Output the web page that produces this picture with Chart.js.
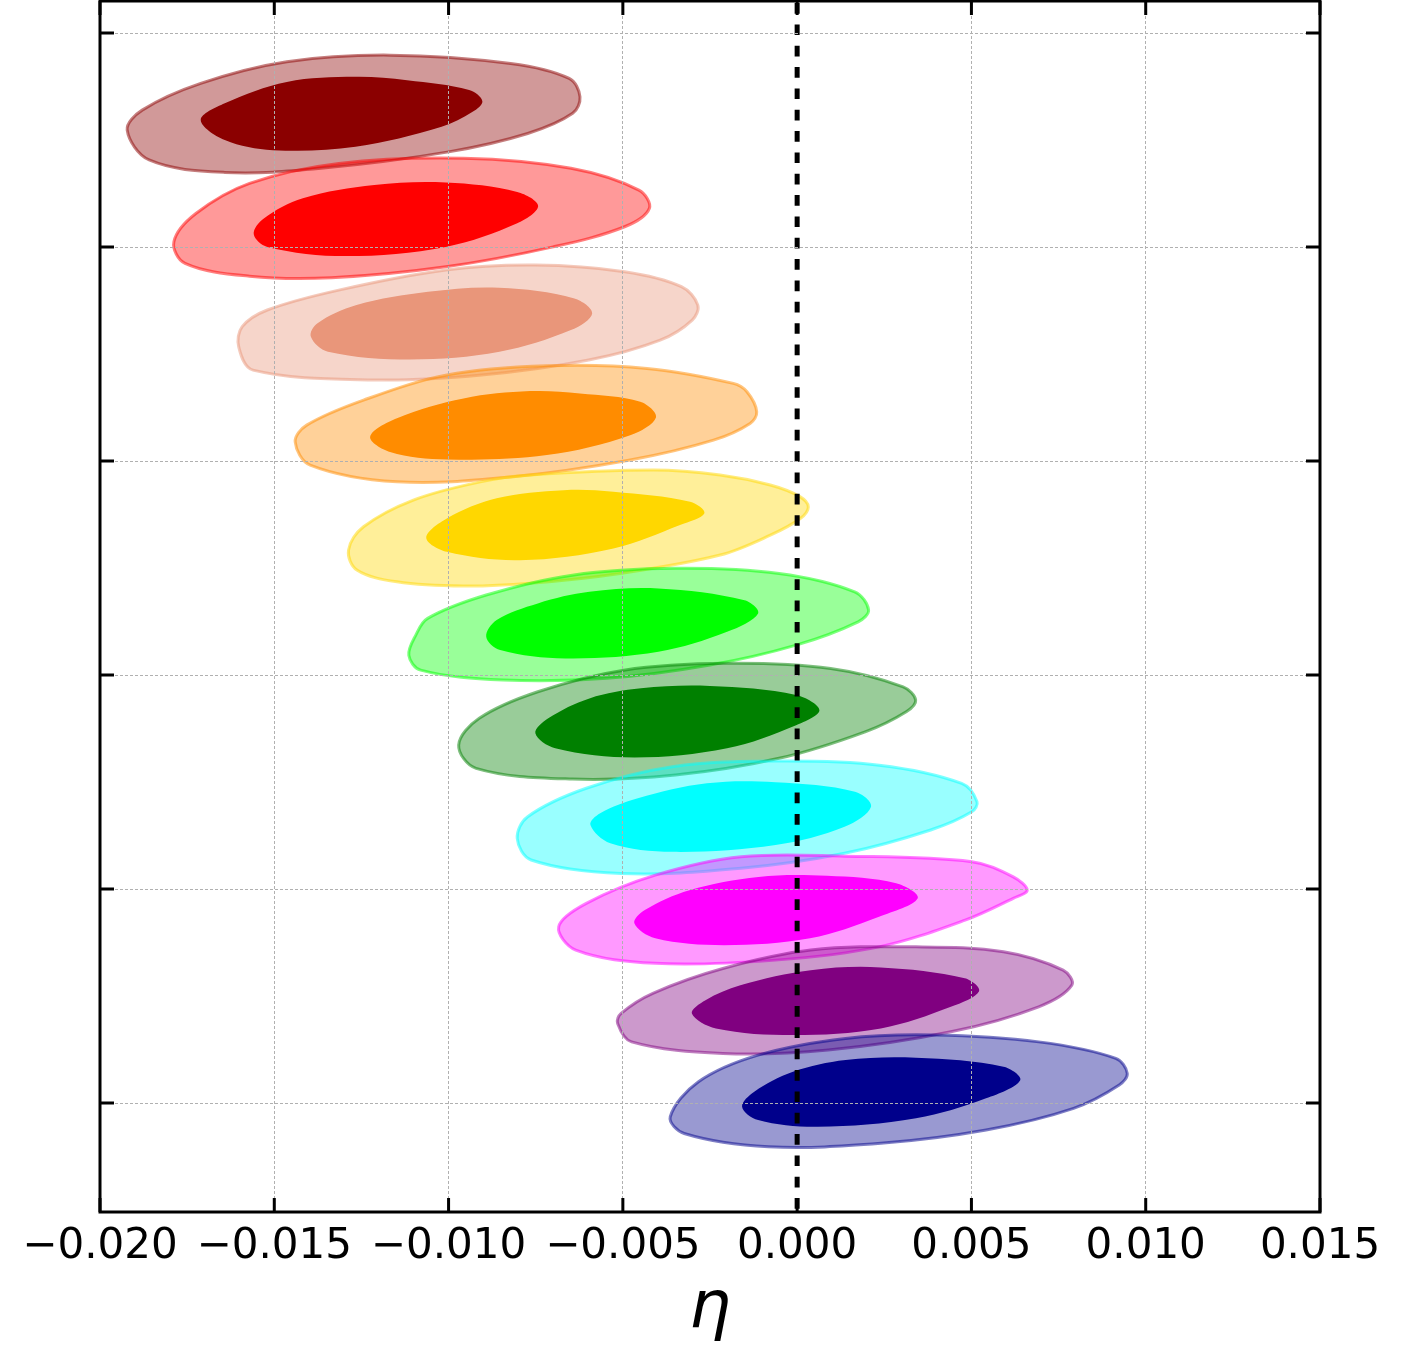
<!DOCTYPE html>
<html>
<head>
<meta charset="utf-8">
<script src="https://cdn.jsdelivr.net/npm/chart.js@4.4.1/dist/chart.umd.min.js"></script>
<style>
  html, body { margin: 0; padding: 0; background: #fff; }
  canvas { display: block; }
</style>
</head>
<body>
<canvas id="chart" width="1409" height="1355"></canvas>
<script>
// axis setup
const xTicks = [-0.020, -0.015, -0.010, -0.005, 0.000, 0.005, 0.010, 0.015];
const xTickLabels = ['\u22120.020', '\u22120.015', '\u22120.010', '\u22120.005', '0.000', '0.005', '0.010', '0.015'];
const yTicks = [0, 1, 2, 3, 4, 5];
const yMin = -0.509;
const yMax = 5.15;
const xTitle = '\u03b7';
const zeroX = 0;

// contour outlines [eta, y] (outer = 2 sigma, inner = 1 sigma)
const darkredOuter = [[-0.01922,4.547],[-0.01859,4.407],[-0.01642,4.349],[-0.01366,4.368],[-0.01000,4.445],[-0.00773,4.531],[-0.00644,4.625],[-0.00623,4.702],[-0.00654,4.788],[-0.00822,4.858],[-0.01168,4.897],[-0.01464,4.866],[-0.01711,4.765],[-0.01879,4.640]];
const darkredInner = [[-0.01711,4.594],[-0.01642,4.500],[-0.01504,4.453],[-0.01267,4.469],[-0.01020,4.562],[-0.00931,4.632],[-0.00903,4.682],[-0.00941,4.734],[-0.01119,4.780],[-0.01267,4.796],[-0.01464,4.772],[-0.01642,4.672]];
const redOuter = [[-0.01788,4.025],[-0.01756,3.924],[-0.01571,3.864],[-0.01336,3.857],[-0.01008,3.908],[-0.00700,4.001],[-0.00495,4.095],[-0.00424,4.181],[-0.00454,4.266],[-0.00649,4.368],[-0.00957,4.415],[-0.01315,4.391],[-0.01571,4.298],[-0.01725,4.157]];
const redInner = [[-0.01559,4.061],[-0.01520,4.001],[-0.01295,3.958],[-0.01008,4.001],[-0.00803,4.111],[-0.00743,4.192],[-0.00803,4.258],[-0.01008,4.302],[-0.01213,4.290],[-0.01418,4.228],[-0.01530,4.134]];
const salmonOuter = [[-0.01602,3.534],[-0.01561,3.425],[-0.01213,3.379],[-0.00905,3.402],[-0.00598,3.472],[-0.00393,3.565],[-0.00301,3.659],[-0.00285,3.729],[-0.00332,3.815],[-0.00495,3.885],[-0.00752,3.916],[-0.01008,3.893],[-0.01315,3.799],[-0.01520,3.706],[-0.01592,3.628]];
const salmonInner = [[-0.01395,3.581],[-0.01346,3.511],[-0.01110,3.475],[-0.00854,3.511],[-0.00649,3.612],[-0.00588,3.690],[-0.00639,3.760],[-0.00854,3.810],[-0.01059,3.791],[-0.01264,3.729],[-0.01377,3.643]];
const orangeOuter = [[-0.01440,3.090],[-0.01397,2.981],[-0.01148,2.903],[-0.00814,2.927],[-0.00479,3.005],[-0.00240,3.098],[-0.00135,3.176],[-0.00116,3.230],[-0.00144,3.324],[-0.00183,3.363],[-0.00431,3.433],[-0.00718,3.445],[-0.01005,3.402],[-0.01244,3.285],[-0.01407,3.168]];
const orangeInner = [[-0.01225,3.114],[-0.01168,3.043],[-0.01005,3.008],[-0.00718,3.028],[-0.00479,3.121],[-0.00405,3.204],[-0.00450,3.277],[-0.00623,3.316],[-0.00766,3.327],[-0.00957,3.293],[-0.01148,3.200]];
const goldOuter = [[-0.01287,2.584],[-0.01263,2.491],[-0.01148,2.436],[-0.00957,2.416],[-0.00766,2.429],[-0.00508,2.475],[-0.00221,2.561],[-0.00077,2.654],[0.00009,2.732],[0.00032,2.786],[0.00009,2.833],[-0.00077,2.888],[-0.00221,2.935],[-0.00412,2.958],[-0.00766,2.935],[-0.00909,2.903],[-0.01101,2.818],[-0.01244,2.693]];
const goldInner = [[-0.01064,2.642],[-0.01005,2.576],[-0.00795,2.537],[-0.00527,2.592],[-0.00336,2.701],[-0.00266,2.756],[-0.00307,2.810],[-0.00527,2.857],[-0.00670,2.864],[-0.00862,2.826],[-0.01005,2.732]];
const limeOuter = [[-0.01114,2.093],[-0.01080,2.023],[-0.00843,1.977],[-0.00546,1.985],[-0.00250,2.047],[-0.00003,2.140],[0.00175,2.249],[0.00205,2.304],[0.00165,2.389],[-0.00052,2.475],[-0.00349,2.499],[-0.00645,2.467],[-0.00892,2.374],[-0.01060,2.265],[-0.01094,2.187]];
const limeInner = [[-0.00892,2.179],[-0.00852,2.117],[-0.00665,2.078],[-0.00398,2.109],[-0.00201,2.202],[-0.00112,2.288],[-0.00151,2.350],[-0.00398,2.405],[-0.00596,2.389],[-0.00744,2.335],[-0.00862,2.257]];
const greenOuter = [[-0.00971,1.673],[-0.00921,1.564],[-0.00645,1.514],[-0.00349,1.533],[-0.00052,1.611],[0.00195,1.735],[0.00313,1.829],[0.00340,1.883],[0.00304,1.945],[0.00096,2.031],[-0.00201,2.055],[-0.00497,2.023],[-0.00744,1.922],[-0.00912,1.798]];
const greenInner = [[-0.00751,1.728],[-0.00694,1.658],[-0.00467,1.615],[-0.00201,1.658],[-0.00003,1.766],[0.00064,1.836],[-0.00003,1.907],[-0.00250,1.949],[-0.00448,1.938],[-0.00596,1.891],[-0.00714,1.798]];
const cyanOuter = [[-0.00803,1.237],[-0.00763,1.136],[-0.00506,1.073],[-0.00161,1.097],[0.00136,1.167],[0.00383,1.276],[0.00501,1.361],[0.00516,1.408],[0.00472,1.494],[0.00235,1.579],[-0.00062,1.598],[-0.00358,1.572],[-0.00605,1.471],[-0.00773,1.338]];
const cyanInner = [[-0.00593,1.299],[-0.00536,1.214],[-0.00358,1.174],[-0.00062,1.206],[0.00136,1.291],[0.00212,1.385],[0.00166,1.455],[-0.00062,1.499],[-0.00259,1.494],[-0.00457,1.424],[-0.00565,1.354]];
const magentaOuter = [[-0.00684,0.824],[-0.00635,0.715],[-0.00407,0.653],[-0.00062,0.668],[0.00235,0.730],[0.00482,0.855],[0.00620,0.957],[0.00660,0.995],[0.00620,1.057],[0.00501,1.128],[0.00136,1.154],[-0.00161,1.151],[-0.00407,1.065],[-0.00605,0.933]];
const magentaInner = [[-0.00467,0.840],[-0.00407,0.770],[-0.00210,0.738],[0.00037,0.770],[0.00235,0.871],[0.00346,0.957],[0.00284,1.027],[0.00086,1.062],[-0.00111,1.057],[-0.00309,0.995],[-0.00437,0.902]];
const purpleOuter = [[-0.00515,0.372],[-0.00475,0.286],[-0.00213,0.232],[0.00089,0.248],[0.00441,0.333],[0.00693,0.450],[0.00788,0.551],[0.00763,0.621],[0.00592,0.707],[0.00341,0.730],[0.00039,0.715],[-0.00213,0.629],[-0.00414,0.513],[-0.00505,0.419]];
const purpleInner = [[-0.00302,0.419],[-0.00233,0.349],[-0.00012,0.318],[0.00240,0.349],[0.00441,0.450],[0.00522,0.523],[0.00481,0.583],[0.00240,0.634],[0.00039,0.621],[-0.00163,0.551],[-0.00263,0.481]];
const navyOuter = [[-0.00364,-0.064],[-0.00324,-0.142],[-0.00082,-0.204],[0.00240,-0.188],[0.00542,-0.126],[0.00793,-0.025],[0.00924,0.084],[0.00947,0.139],[0.00914,0.209],[0.00693,0.286],[0.00391,0.318],[0.00139,0.302],[-0.00112,0.224],[-0.00283,0.100]];
const navyInner = [[-0.00158,-0.017],[-0.00112,-0.079],[0.00059,-0.111],[0.00341,-0.071],[0.00542,0.022],[0.00640,0.107],[0.00592,0.170],[0.00341,0.212],[0.00139,0.201],[-0.00012,0.146],[-0.00123,0.053]];

const outerContours = [darkredOuter, redOuter, salmonOuter, orangeOuter, goldOuter, limeOuter, greenOuter, cyanOuter, magentaOuter, purpleOuter, navyOuter];
const innerContours = [darkredInner, redInner, salmonInner, orangeInner, goldInner, limeInner, greenInner, cyanInner, magentaInner, purpleInner, navyInner];
const palette = ['139,0,0', '255,0,0', '233,150,122', '255,140,0', '255,215,0', '0,255,0', '0,128,0', '0,255,255', '255,0,255', '128,0,128', '0,0,139'];

const toPoints = pts => pts.map(([x, y]) => ({ x, y }));

const drawn = [];
outerContours.forEach((pts, i) => {
  const c = palette[i];
  drawn.push({
    closed: true, data: toPoints(pts), showLine: true, fill: 'shape', tension: 0.35, pointRadius: 0,
    backgroundColor: `rgba(${c},0.4)`, borderColor: `rgba(${c},0.5)`, borderWidth: 3, borderJoinStyle: 'round'
  });
  drawn.push({
    closed: true, data: toPoints(innerContours[i]), showLine: true, fill: 'shape', tension: 0.35, pointRadius: 0,
    backgroundColor: `rgb(${c})`, borderColor: `rgb(${c})`, borderWidth: 0
  });
});
drawn.push({
  data: [{ x: zeroX, y: yMax }, { x: zeroX, y: yMin }], showLine: true, fill: false, pointRadius: 0,
  borderColor: '#000', borderWidth: 5, borderDash: [10.67, 10.67], borderDashOffset: 19.3
});
// chart.js paints the last dataset first
const datasets = drawn.reverse();

// turn the contour lines into closed loops (same trick the radar chart uses)
const closedContours = {
  id: 'closedContours',
  afterDatasetsUpdate(chart) {
    chart.data.datasets.forEach((ds, i) => {
      if (!ds.closed) return;
      const line = chart.getDatasetMeta(i).dataset;
      if (!line) return;
      line._loop = true;
      line._fullLoop = true;
      line._segments = undefined;
      line._path = undefined;
      line._pointsUpdated = false;
    });
  }
};

// frame and inward ticks on all four sides
const frameTicks = {
  id: 'frameTicks',
  afterDraw(chart) {
    const { ctx, chartArea: a, scales: { x, y } } = chart;
    ctx.save();
    ctx.strokeStyle = '#000';
    ctx.lineWidth = 3;
    ctx.beginPath();
    x.ticks.forEach(t => {
      const px = x.getPixelForValue(t.value);
      ctx.moveTo(px, a.bottom); ctx.lineTo(px, a.bottom - 14);
      ctx.moveTo(px, a.top); ctx.lineTo(px, a.top + 14);
    });
    y.ticks.forEach(t => {
      const py = y.getPixelForValue(t.value);
      ctx.moveTo(a.left, py); ctx.lineTo(a.left + 14, py);
      ctx.moveTo(a.right, py); ctx.lineTo(a.right - 14, py);
    });
    ctx.stroke();
    ctx.strokeRect(a.left, a.top, a.right - a.left, a.bottom - a.top);
    ctx.restore();
  }
};

new Chart(document.getElementById('chart'), {
  type: 'scatter',
  data: { datasets },
  options: {
    responsive: false,
    animation: false,
    devicePixelRatio: 1,
    events: [],
    layout: { padding: { left: 100, right: 89, top: 1, bottom: 0 } },
    plugins: { legend: { display: false }, tooltip: { enabled: false } },
    scales: {
      x: {
        type: 'linear', min: -0.020, max: 0.015,
        afterBuildTicks: s => { s.ticks = xTicks.map(v => ({ value: v })); },
        afterFit: s => { s.height = 143; },
        ticks: {
          autoSkip: false, maxRotation: 0, padding: 10, color: '#000',
          font: { family: 'DejaVu Sans', size: 42 },
          callback: (v, i) => xTickLabels[i]
        },
        grid: {
          z: 1, drawTicks: false, lineWidth: 1,
          color: c => (c.tick && c.tick.value === 0) ? 'rgba(0,0,0,0)' : '#b0b0b0'
        },
        border: { display: false, dash: [3, 2] },
        title: {
          display: true, text: xTitle, color: '#000',
          font: { family: 'DejaVu Sans', style: 'italic', size: 66 },
          padding: { top: 0, bottom: 6 }
        }
      },
      y: {
        type: 'linear', min: yMin, max: yMax,
        afterBuildTicks: s => { s.ticks = yTicks.map(v => ({ value: v })); },
        afterFit: s => { s.width = 0; },
        ticks: { display: false },
        grid: { z: 1, drawTicks: false, lineWidth: 1, color: '#b0b0b0' },
        border: { display: false, dash: [3, 2] }
      }
    }
  },
  plugins: [closedContours, frameTicks]
});
</script>
</body>
</html>
